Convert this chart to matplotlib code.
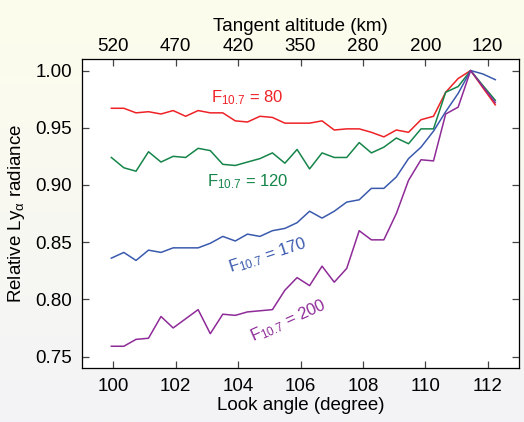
import matplotlib
matplotlib.use("Agg")
import matplotlib.pyplot as plt
import numpy as np

plt.rcParams["font.family"] = ["Liberation Sans", "DejaVu Sans"]
plt.rcParams["mathtext.default"] = "regular"

# look angle (degree), 32 samples
look_angle = [99.94, 100.34, 100.73, 101.13, 101.53, 101.92, 102.32, 102.72,
              103.11, 103.51, 103.91, 104.30, 104.70, 105.10, 105.50, 105.89,
              106.29, 106.69, 107.08, 107.48, 107.88, 108.27, 108.67, 109.07,
              109.46, 109.86, 110.26, 110.65, 111.05, 111.45, 111.84, 112.24]

f80 = [0.967, 0.967, 0.963, 0.964, 0.962, 0.965, 0.960, 0.965, 0.963, 0.963,
       0.956, 0.955, 0.960, 0.959, 0.954, 0.954, 0.954, 0.956, 0.948, 0.949,
       0.949, 0.946, 0.942, 0.948, 0.946, 0.957, 0.960, 0.981, 0.993, 1.000,
       0.985, 0.970]
f120 = [0.924, 0.915, 0.912, 0.929, 0.920, 0.925, 0.924, 0.932, 0.930, 0.918,
        0.917, 0.920, 0.923, 0.928, 0.919, 0.931, 0.914, 0.928, 0.924, 0.924,
        0.937, 0.928, 0.933, 0.941, 0.936, 0.949, 0.949, 0.981, 0.986, 1.000,
        0.987, 0.974]
f170 = [0.836, 0.841, 0.834, 0.843, 0.841, 0.845, 0.845, 0.845, 0.849, 0.855,
        0.851, 0.857, 0.855, 0.860, 0.862, 0.867, 0.877, 0.871, 0.877, 0.885,
        0.887, 0.897, 0.897, 0.907, 0.923, 0.933, 0.947, 0.964, 0.980, 1.000,
        0.997, 0.992]
f200 = [0.759, 0.759, 0.765, 0.766, 0.785, 0.775, 0.783, 0.791, 0.770, 0.787,
        0.786, 0.789, 0.790, 0.791, 0.808, 0.819, 0.812, 0.829, 0.815, 0.827,
        0.860, 0.852, 0.852, 0.875, 0.904, 0.922, 0.921, 0.962, 0.968, 1.000,
        0.986, 0.972]

angle_ticks = [100, 102, 104, 106, 108, 110, 112]
altitude_labels = ["520", "470", "420", "350", "280", "200", "120"]

colors = {"80": "#ee2226", "120": "#16854a", "170": "#3a5aad", "200": "#8e2b98"}

fig = plt.figure(figsize=(5.24, 4.22), dpi=100)

# soft background gradient (cream at top, light grey at bottom)
bg = fig.add_axes([0, 0, 1, 1], zorder=-10)
grad = np.linspace(0, 1, 256)[:, None]
top_c = np.array([253, 253, 236]) / 255
bot_c = np.array([243, 243, 247]) / 255
img = top_c[None, None, :] * (1 - grad[:, :, None]) + bot_c[None, None, :] * grad[:, :, None]
bg.imshow(img, aspect="auto", extent=[0, 1, 0, 1])
bg.axis("off")

ax = fig.add_axes([0.1565, 0.128, 0.834, 0.732])
ax.set_facecolor("white")
ax.plot(look_angle, f80, color=colors["80"], lw=1.1)
ax.plot(look_angle, f120, color=colors["120"], lw=1.1)
ax.plot(look_angle, f170, color=colors["170"], lw=1.1)
ax.plot(look_angle, f200, color=colors["200"], lw=1.1)

ax.set_xlim(99, 113)
ax.set_ylim(0.74, 1.01)
ax.set_xticks(angle_ticks)
ax.set_yticks([0.75, 0.80, 0.85, 0.90, 0.95, 1.00])
ax.yaxis.set_major_formatter(matplotlib.ticker.FormatStrFormatter("%.2f"))
ax.tick_params(direction="in", length=5, width=0.9, labelsize=13.5,
               right=True, color="#444444", pad=7)
for s in ax.spines.values():
    s.set_color("#555555")
    s.set_linewidth(0.9)
ax.set_xlabel("Look angle (degree)", fontsize=13.5, labelpad=2)
ax.set_ylabel(r"Relative Ly$_{\alpha}$ radiance", fontsize=13.5, labelpad=6)

ax2 = ax.twiny()
ax2.set_xlim(ax.get_xlim())
ax2.set_xticks(angle_ticks)
ax2.set_xticklabels(altitude_labels)
ax2.tick_params(direction="in", length=5, width=0.9, labelsize=13.5,
                color="#444444", pad=3)
ax2.set_xlabel("Tangent altitude (km)", fontsize=13.5, labelpad=5)

ax.text(104.3, 0.976, r"F$_{10.7}$ = 80", color=colors["80"], fontsize=12,
        ha="center", va="center")
ax.text(104.3, 0.903, r"F$_{10.7}$ = 120", color=colors["120"], fontsize=12,
        ha="center", va="center")
ax.text(104.95, 0.838, r"F$_{10.7}$ = 170", color=colors["170"], fontsize=12,
        ha="center", va="center", rotation=18)
ax.text(105.6, 0.781, r"F$_{10.7}$ = 200", color=colors["200"], fontsize=12,
        ha="center", va="center", rotation=24)

fig.savefig("out.png", dpi=100)
